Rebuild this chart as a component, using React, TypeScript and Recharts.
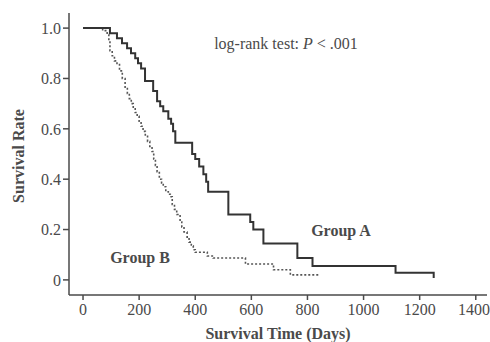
import React from "react";
import { LineChart, Line, XAxis, YAxis } from "recharts";

const xTicks = [0, 200, 400, 600, 800, 1000, 1200, 1400];
const yTicks = [0, 0.2, 0.4, 0.6, 0.8, 1.0];

// Group A (solid): [time, survival] step points
const groupA: [number, number][] = [
  [0, 1.0], [96, 0.98], [121, 0.96], [139, 0.94], [157, 0.92], [171, 0.9],
  [186, 0.88], [196, 0.86], [207, 0.84], [221, 0.79], [250, 0.75], [264, 0.71],
  [275, 0.69], [286, 0.67], [304, 0.64], [314, 0.62], [321, 0.59], [329, 0.545],
  [389, 0.5], [400, 0.48], [414, 0.45], [429, 0.42], [439, 0.39], [446, 0.35],
  [518, 0.26], [596, 0.23], [607, 0.2], [643, 0.145], [764, 0.087], [818, 0.055],
  [1114, 0.028], [1250, 0.008],
];

// Group B (dotted)
const groupB: [number, number][] = [
  [0, 1.0], [54, 1.0], [70, 0.99], [86, 0.975], [92, 0.95], [96, 0.91], [104, 0.89],
  [112, 0.87], [121, 0.86], [130, 0.83], [140, 0.8], [150, 0.76], [158, 0.74],
  [165, 0.72], [172, 0.7], [179, 0.68], [186, 0.665], [193, 0.65], [200, 0.63],
  [207, 0.61], [214, 0.59], [222, 0.57], [230, 0.55], [238, 0.53], [246, 0.51],
  [252, 0.48], [258, 0.455], [264, 0.43], [272, 0.4], [280, 0.385], [286, 0.37],
  [295, 0.35], [304, 0.34], [311, 0.33], [318, 0.3], [326, 0.28], [334, 0.26],
  [346, 0.23], [352, 0.21], [360, 0.19], [371, 0.17], [378, 0.15], [386, 0.135],
  [393, 0.12], [400, 0.11], [443, 0.095], [464, 0.087], [579, 0.063], [679, 0.04],
  [739, 0.02], [839, 0.02],
];

const dataA = groupA.map(([t, s]) => ({ t, s }));
const dataB = groupB.map(([t, s]) => ({ t, s }));

const FONT = "'Liberation Serif', 'Times New Roman', serif";
const INK = "#4a4a4a";

export default function App() {
  return (
    <div style={{ position: "absolute", left: 0, top: 0, width: 490, height: 342, background: "#fff" }}>
      <LineChart
        width={490}
        height={342}
        margin={{ top: 13, right: 3, bottom: 17, left: 24 }}
        style={{ fontFamily: FONT }}
      >
        <XAxis
          type="number"
          dataKey="t"
          domain={[-50, 1440]}
          ticks={xTicks}
          allowDataOverflow
          height={30}
          tickSize={5}
          tickMargin={4}
          stroke={INK}
          strokeWidth={1.5}
          tick={{ fill: INK, fontSize: 16, fontFamily: FONT }}
        />
        <YAxis
          type="number"
          dataKey="s"
          domain={[-0.06, 1.06]}
          ticks={yTicks}
          allowDataOverflow
          width={45}
          tickSize={6}
          tickMargin={2}
          stroke={INK}
          strokeWidth={1.5}
          tickFormatter={(v: number) => (v === 0 ? "0" : v.toFixed(1))}
          tick={{ fill: INK, fontSize: 16, fontFamily: FONT }}
        />
        <Line
          data={dataB}
          dataKey="s"
          type="stepAfter"
          stroke="#555"
          strokeWidth={1.6}
          strokeDasharray="2 2"
          dot={false}
          isAnimationActive={false}
        />
        <Line
          data={dataA}
          dataKey="s"
          type="stepAfter"
          stroke="#333"
          strokeWidth={2}
          dot={false}
          isAnimationActive={false}
        />
      </LineChart>
      <svg
        width={490}
        height={342}
        style={{ position: "absolute", left: 0, top: 0, pointerEvents: "none" }}
        fontFamily={FONT}
      >
        <text x={278} y={333} textAnchor="middle" dominantBaseline="central" fontSize={16} fontWeight="bold" fill={INK}>
          Survival Time (Days)
        </text>
        <text
          x={18}
          y={156}
          textAnchor="middle"
          dominantBaseline="central"
          fontSize={16}
          fontWeight="bold"
          fill={INK}
          transform="rotate(-90 18 156)"
        >
          Survival Rate
        </text>
        <text x={286} y={43} textAnchor="middle" dominantBaseline="central" fontSize={16} fill={INK}>
          log-rank test: <tspan fontStyle="italic">P</tspan> &lt; .001
        </text>
        <text x={341} y={230} textAnchor="middle" dominantBaseline="central" fontSize={16} fontWeight="bold" fill={INK}>
          Group A
        </text>
        <text x={140} y={257} textAnchor="middle" dominantBaseline="central" fontSize={16} fontWeight="bold" fill={INK}>
          Group B
        </text>
      </svg>
    </div>
  );
}
